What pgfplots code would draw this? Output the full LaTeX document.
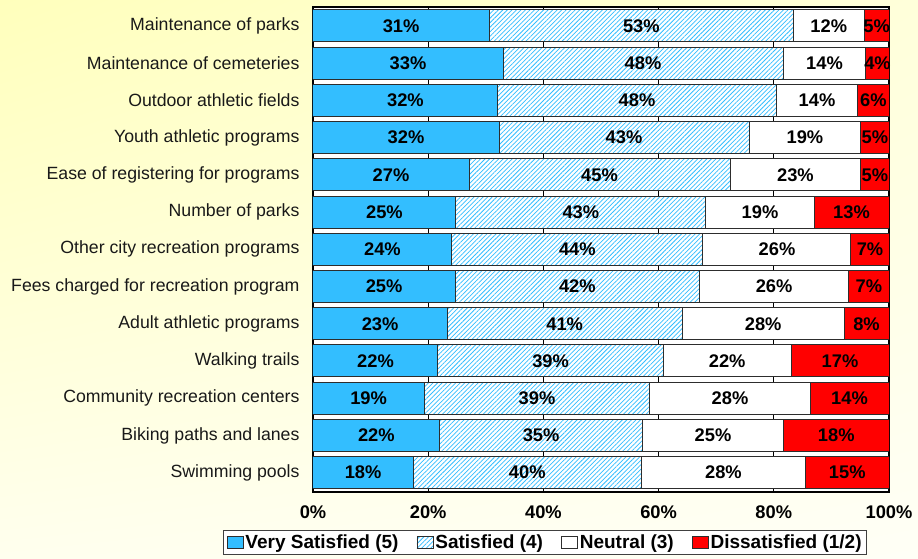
\documentclass[border=0pt]{standalone}
\usepackage{pgfplots}
\pgfplotsset{compat=1.18}
\usepackage{pgfplotstable}
\usetikzlibrary{patterns.meta,shadings}
\usepackage{fontspec}
\setmainfont{Liberation Sans}
\definecolor{vs}{RGB}{51,190,255}
\definecolor{dis}{RGB}{255,0,0}
\definecolor{barline}{RGB}{45,45,45}
\definecolor{bgul}{RGB}{255,255,188}
\definecolor{bgur}{RGB}{255,255,218}
\definecolor{bgll}{RGB}{255,255,238}
\definecolor{bglr}{RGB}{255,255,246}

\pgfplotstableread{
idx vs s n d lvs ls ln ld
0 30.6 52.8 12.3 4.3 31 53 12 5
1 33.0 48.6 14.4 4.0 33 48 14 4
2 32.1 48.3 14.2 5.4 32 48 14 6
3 32.3 43.4 19.4 4.9 32 43 19 5
4 27.1 45.3 22.7 4.9 27 45 23 5
5 24.8 43.4 18.8 13.0 25 43 19 13
6 24.1 43.6 25.7 6.6 24 44 26 7
7 24.7 42.4 25.9 7.0 25 42 26 7
8 23.3 40.8 28.1 7.8 23 41 28 8
9 21.7 39.1 22.2 17.0 22 39 22 17
10 19.3 39.2 27.8 13.7 19 39 28 14
11 22.0 35.2 24.5 18.3 22 35 25 18
12 17.4 39.6 28.5 14.5 18 40 28 15
}\datatable

\begin{document}
\begin{tikzpicture}
\shade[upper left=bgul, upper right=bgur, lower left=bgll, lower right=bglr]
  (-313pt,-66pt) rectangle (605pt,492pt);
\begin{axis}[
  at={(0,0)}, anchor=south west,
  scale only axis,
  width=576pt, height=485pt,
  xbar stacked,
  bar width=32pt,
  xmin=0, xmax=100,
  ymin=-0.51, ymax=12.52,
  y dir=reverse,
  axis background/.style={fill=white},
  axis line style={black, line width=2pt},
  xtick={0,20,...,100},
  xticklabel={\pgfmathprintnumber{\tick}\%},
  /pgf/number format/assume math mode=true,
  xticklabel style={font=\bfseries\fontsize{18.3}{20}\selectfont, yshift=-10pt},
  tick align=inside,
  major tick length=4pt,
  xtick style={black, line width=0.8pt},
  xmajorgrids,
  major grid style={black, line width=0.7pt},
  ytick={0,...,12},
  yticklabels={Maintenance of parks,Maintenance of cemeteries,Outdoor athletic fields,Youth athletic programs,Ease of registering for programs,Number of parks,Other city recreation programs,Fees charged for recreation program,Adult athletic programs,Walking trails,Community recreation centers,Biking paths and lanes,Swimming pools},
  yticklabel style={font=\fontsize{17.7}{20}\selectfont, text=black!90, xshift=-10pt},
  ytick style={draw=none},
  point meta=explicit symbolic,
  nodes near coords={\pgfplotspointmeta\%},
  nodes near coords style={font=\bfseries\fontsize{18.3}{20}\selectfont, text=black},
  legend style={at={(0.403,-0.079)}, anchor=north, legend columns=4,
    draw=black!75, line width=0.9pt, fill=white,
    font=\bfseries\fontsize{19}{21}\selectfont,
    inner xsep=3pt, inner ysep=2pt,
    /tikz/every even column/.append style={column sep=16pt},
    nodes={inner xsep=2pt}},
  legend image code/.code={\draw[#1, line width=0.8pt] (0pt,-6pt) rectangle (16pt,6pt);},
]
\addplot[draw=barline, line width=1pt, fill=vs] table[x=vs, y=idx, meta=lvs] {\datatable};
\addlegendentry{Very Satisfied (5)}
\addplot[draw=barline, line width=1pt, fill=white,
  postaction={pattern={Lines[angle=45,distance=3.2pt,line width=0.75pt]}, pattern color=vs}]
  table[x=s, y=idx, meta=ls] {\datatable};
\addlegendentry{Satisfied (4)}
\addplot[draw=barline, line width=1pt, fill=white] table[x=n, y=idx, meta=ln] {\datatable};
\addlegendentry{Neutral (3)}
\addplot[draw=barline, line width=1pt, fill=dis] table[x=d, y=idx, meta=ld] {\datatable};
\addlegendentry{Dissatisfied (1/2)}
\end{axis}
\end{tikzpicture}
\end{document}
